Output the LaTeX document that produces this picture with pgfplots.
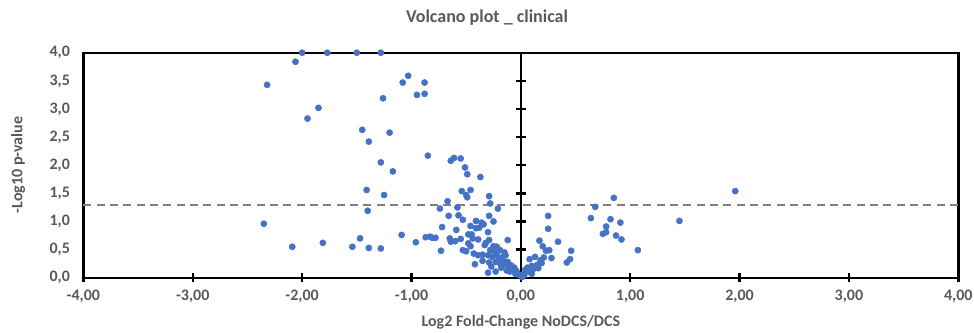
\documentclass[border=0pt]{standalone}
\usepackage{pgfplots}
\pgfplotsset{compat=1.18}
\usepackage{fontspec}
\setmainfont{Carlito}
\definecolor{ptc}{HTML}{4472C4}
\definecolor{txt}{HTML}{595959}
\definecolor{dashc}{HTML}{808080}
\begin{document}
\begin{tikzpicture}
\begin{axis}[
  at={(62.5pt,40.7pt)}, anchor=south west,
  scale only axis, width=656.25pt, height=168.75pt,
  xmin=-4, xmax=4, ymin=0, ymax=4,
  xtick={-4,-3,-2,-1,0,1,2,3,4},
  ytick={0,0.5,1,1.5,2,2.5,3,3.5,4},
  axis line style={line width=1.8pt, black},
  xtick pos=bottom, ytick pos=left,
  tick align=center, major tick length=7pt,
  xtick style={line width=1.8pt, black},
  ytick style={draw=none},
  clip=false,
  /pgf/number format/assume math mode=true,
  ticklabel style={font=\bfseries\fontsize{12}{14}\selectfont, text=txt},
  x tick label style={/pgf/number format/.cd, fixed, fixed zerofill, precision=2, use comma},
  y tick label style={/pgf/number format/.cd, fixed, fixed zerofill, precision=1, use comma},
  xticklabel shift=2pt, yticklabel shift=3pt,
]
\draw[line width=1.8pt, black] (rel axis cs:0,0) rectangle (rel axis cs:1,1);
\draw[line width=1.8pt, black] (axis cs:0,0) -- (axis cs:0,4);
\pgfplotsinvokeforeach{0.5,1,1.5,2,2.5,3,3.5}{
  \draw[line width=1.8pt, black] ([xshift=-3.8pt]axis cs:0,#1) -- ([xshift=3.8pt]axis cs:0,#1);
}
\addplot[dashc, line width=1.5pt, dash pattern=on 6pt off 4pt] coordinates {(-4,1.301) (4,1.301)};
\addplot[only marks, mark=*, mark size=2.3pt, mark options={draw=ptc, fill=ptc}] table {
x y
-2.32 3.43
-2.06 3.84
-2.00 4.00
-1.77 4.00
-1.50 4.00
-1.28 4.00
-1.95 2.83
-1.85 3.02
-1.26 3.19
-1.45 2.63
-1.39 2.42
-1.20 2.58
-1.08 3.47
-1.03 3.59
-0.95 3.25
-0.88 3.47
-0.88 3.27
-1.28 2.05
-1.17 1.89
-0.85 2.17
-1.41 1.56
-1.25 1.47
-1.40 1.19
-2.35 0.96
-2.09 0.55
-1.81 0.62
-1.54 0.55
-1.47 0.70
-1.39 0.53
-1.28 0.52
-1.09 0.76
-0.96 0.63
-0.87 0.72
-0.83 0.73
-0.81 0.71
-0.78 0.71
-0.64 2.08
-0.61 2.13
-0.55 2.12
-0.51 1.96
-0.49 1.84
-0.37 1.79
-0.54 1.54
-0.50 1.47
-0.46 1.56
-0.49 1.43
-0.29 1.45
-0.67 1.36
-0.58 1.25
-0.74 1.23
-0.28 1.32
-0.21 1.23
-0.66 1.10
-0.57 1.11
-0.53 1.03
-0.29 1.10
-0.25 1.00
-0.72 0.90
-0.59 0.85
-0.46 0.92
-0.41 1.01
-0.41 0.88
-0.36 0.98
-0.34 0.95
-0.38 0.89
-0.45 0.77
-0.48 0.77
-0.30 0.81
-0.65 0.70
-0.64 0.64
-0.60 0.65
-0.55 0.69
-0.48 0.61
-0.44 0.70
-0.39 0.68
-0.29 0.67
-0.12 0.67
-0.73 0.48
-0.53 0.49
-0.50 0.47
-0.46 0.56
-0.43 0.43
-0.39 0.40
-0.35 0.41
-0.28 0.49
-0.25 0.56
-0.22 0.55
-0.19 0.49
-0.30 0.40
-0.26 0.37
-0.22 0.40
-0.17 0.36
-0.14 0.40
-0.42 0.24
-0.29 0.27
-0.23 0.28
-0.19 0.26
-0.14 0.24
-0.11 0.20
-0.30 0.09
-0.23 0.11
-0.10 0.11
-0.07 0.14
-0.03 0.08
0.00 0.04
0.01 0.01
-0.02 0.05
0.03 0.05
-0.05 0.07
-0.08 0.15
-0.33 0.58
-0.20 0.33
-0.16 0.30
-0.12 0.28
-0.09 0.22
-0.06 0.18
-0.04 0.12
-0.35 0.30
-0.27 0.20
-0.18 0.18
-0.13 0.13
-0.32 0.62
-0.24 0.45
-0.15 0.45
0.25 1.10
0.25 0.87
0.17 0.66
0.20 0.56
0.23 0.48
0.26 0.49
0.34 0.64
0.28 0.35
0.46 0.48
0.45 0.33
0.42 0.27
0.64 1.06
0.68 1.26
0.08 0.33
0.13 0.37
0.18 0.31
0.19 0.26
0.15 0.23
0.10 0.21
0.06 0.18
0.04 0.14
0.12 0.16
0.16 0.17
0.03 0.05
0.07 0.11
0.10 0.07
0.21 0.36
0.85 1.42
0.82 1.04
0.91 0.98
0.78 0.91
0.78 0.81
0.75 0.78
0.87 0.75
0.92 0.68
1.07 0.49
1.45 1.01
1.96 1.54
};
\end{axis}
\node[font=\bfseries\fontsize{13.5}{16}\selectfont, text=txt] at (365.25pt,235.5pt) {Volcano plot \_ clinical};
\node[font=\bfseries\fontsize{12}{14}\selectfont, text=txt] at (390.6pt,7.5pt) {Log2 Fold-Change NoDCS/DCS};
\node[font=\bfseries\fontsize{12}{14}\selectfont, text=txt, rotate=90] at (13.5pt,125.25pt) {-Log10 p-value};
\pgfresetboundingbox
\path (0,0) rectangle (730.5pt,249pt);
\end{tikzpicture}
\end{document}
